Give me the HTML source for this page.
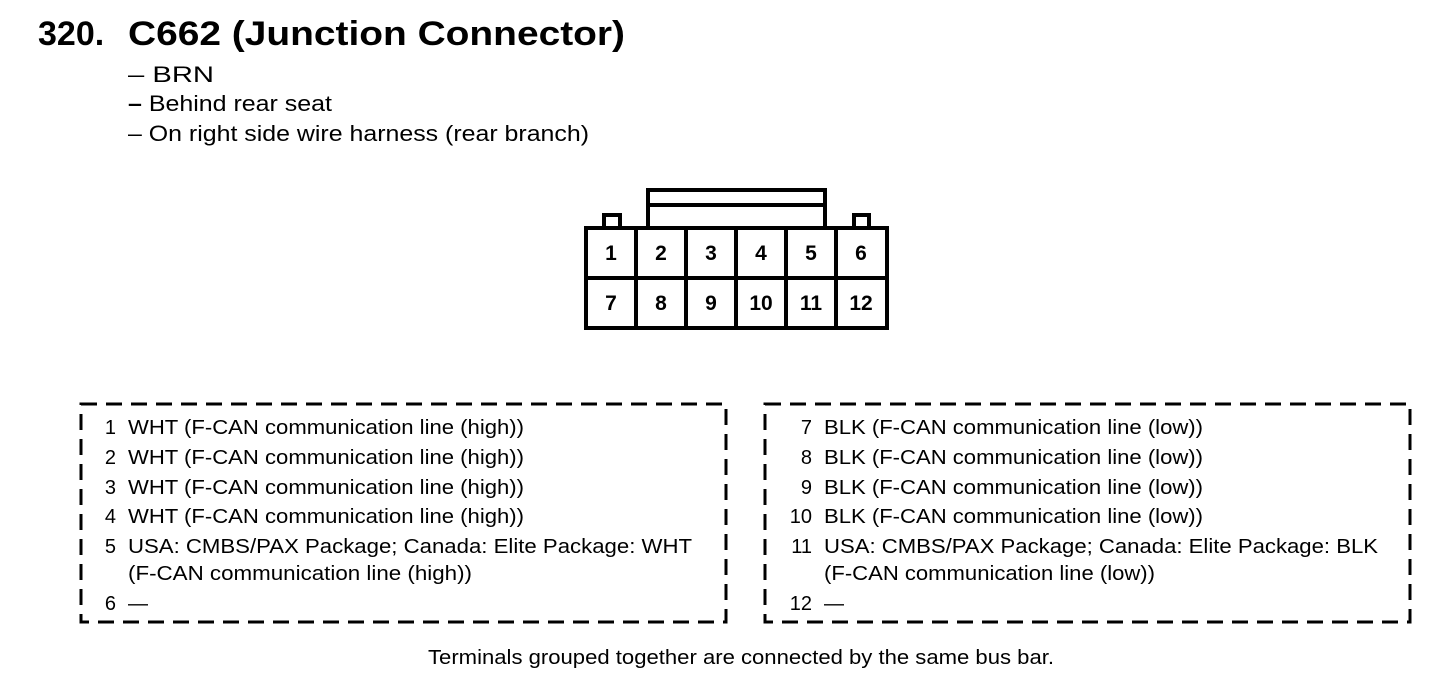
<!DOCTYPE html>
<html><head><meta charset="utf-8"><style>
html,body{margin:0;padding:0;background:#fff;}
svg{display:block;}
text{font-family:"Liberation Sans",Arial,sans-serif;fill:#000;}
</style></head><body>
<svg width="1456" height="686" viewBox="0 0 1456 686" xmlns="http://www.w3.org/2000/svg">
<text x="38" y="45" font-size="34" font-weight="bold">320.</text>
<text x="128" y="45" font-size="34" font-weight="bold" textLength="497" lengthAdjust="spacingAndGlyphs">C662 (Junction Connector)</text>
<text x="128" y="82" font-size="22" textLength="86" lengthAdjust="spacingAndGlyphs">– BRN</text>
<text x="128" y="111" font-size="22" textLength="204" lengthAdjust="spacingAndGlyphs"><tspan font-weight="bold">–</tspan> Behind rear seat</text>
<text x="128" y="141" font-size="22" textLength="461" lengthAdjust="spacingAndGlyphs">– On right side wire harness (rear branch)</text>

<g fill="none" stroke="#000" stroke-width="4">
<path d="M648 227 V190 H825 V227"/>
<line x1="648" y1="205" x2="825" y2="205"/>
<path d="M604 227 V215 H620 V227"/>
<path d="M854 227 V215 H869 V227"/>
<rect x="586" y="228" width="301" height="100"/>
<line x1="586" y1="278" x2="887" y2="278"/>
<line x1="636" y1="228" x2="636" y2="328"/>
<line x1="686" y1="228" x2="686" y2="328"/>
<line x1="736" y1="228" x2="736" y2="328"/>
<line x1="786" y1="228" x2="786" y2="328"/>
<line x1="836" y1="228" x2="836" y2="328"/>
</g>
<g font-size="21" font-weight="bold" text-anchor="middle">
<text x="611" y="260">1</text><text x="661" y="260">2</text><text x="711" y="260">3</text>
<text x="761" y="260">4</text><text x="811" y="260">5</text><text x="861" y="260">6</text>
<text x="611" y="310">7</text><text x="661" y="310">8</text><text x="711" y="310">9</text>
<text x="761" y="310">10</text><text x="811" y="310">11</text><text x="861" y="310">12</text>
</g>

<g fill="none" stroke="#000" stroke-width="3" stroke-dasharray="16,9">
<rect x="81" y="404" width="645" height="218"/>
<rect x="765" y="404" width="645" height="218"/>
</g>

<g font-size="20">
<g text-anchor="end">
<text x="116" y="434">1</text><text x="116" y="464">2</text><text x="116" y="494">3</text>
<text x="116" y="523">4</text><text x="116" y="553">5</text><text x="116" y="610">6</text>
<text x="812" y="434">7</text><text x="812" y="464">8</text><text x="812" y="494">9</text>
<text x="812" y="523">10</text><text x="812" y="553">11</text><text x="812" y="610">12</text>
</g>
<text x="128" y="434" textLength="396" lengthAdjust="spacingAndGlyphs">WHT (F-CAN communication line (high))</text>
<text x="128" y="464" textLength="396" lengthAdjust="spacingAndGlyphs">WHT (F-CAN communication line (high))</text>
<text x="128" y="494" textLength="396" lengthAdjust="spacingAndGlyphs">WHT (F-CAN communication line (high))</text>
<text x="128" y="523" textLength="396" lengthAdjust="spacingAndGlyphs">WHT (F-CAN communication line (high))</text>
<text x="128" y="553" textLength="564" lengthAdjust="spacingAndGlyphs">USA: CMBS/PAX Package; Canada: Elite Package: WHT</text>
<text x="128" y="580" textLength="344" lengthAdjust="spacingAndGlyphs">(F-CAN communication line (high))</text>
<text x="128" y="610">—</text>
<text x="824" y="434" textLength="379" lengthAdjust="spacingAndGlyphs">BLK (F-CAN communication line (low))</text>
<text x="824" y="464" textLength="379" lengthAdjust="spacingAndGlyphs">BLK (F-CAN communication line (low))</text>
<text x="824" y="494" textLength="379" lengthAdjust="spacingAndGlyphs">BLK (F-CAN communication line (low))</text>
<text x="824" y="523" textLength="379" lengthAdjust="spacingAndGlyphs">BLK (F-CAN communication line (low))</text>
<text x="824" y="553" textLength="554" lengthAdjust="spacingAndGlyphs">USA: CMBS/PAX Package; Canada: Elite Package: BLK</text>
<text x="824" y="580" textLength="331" lengthAdjust="spacingAndGlyphs">(F-CAN communication line (low))</text>
<text x="824" y="610">—</text>
</g>
<text x="428" y="664" font-size="20" textLength="626" lengthAdjust="spacingAndGlyphs">Terminals grouped together are connected by the same bus bar.</text>
</svg>
</body></html>
